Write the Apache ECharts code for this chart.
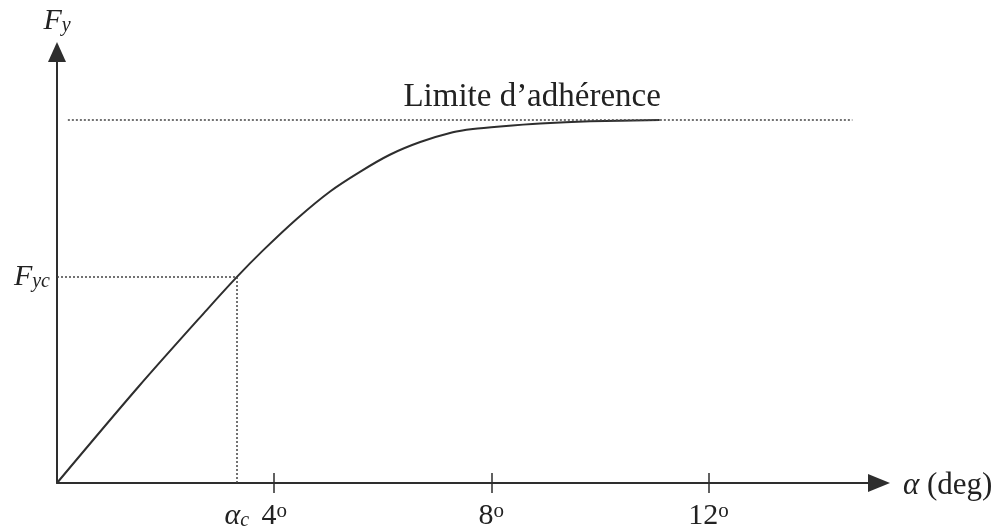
<!DOCTYPE html>
<html>
<head>
<meta charset="utf-8">
<script src="https://cdn.jsdelivr.net/npm/echarts@6/dist/echarts.min.js"></script>
<style>
  html, body { margin: 0; padding: 0; background: #fff; }
</style>
</head>
<body>
<div id="chart" style="width: 1008px; height: 532px"></div>
<script>
// curve: alpha in degrees, Fy relative to the adhesion limit
const alphaDeg = [0, 1.5, 2.76, 3.31, 3.79, 4.42, 5.03, 5.58, 6.13, 6.69, 7.29, 7.66, 8.16, 8.9, 9.82, 11.1];
const fyValues = [0, 0.265, 0.477, 0.567, 0.64, 0.728, 0.803, 0.857, 0.904, 0.939, 0.966, 0.975, 0.982, 0.99, 0.996, 1.0];

const alphaC = 3.31;
const fyc = 0.567;
const limitF = 1.0;
const limitSpan = [0.2, 14.65];
const xTicks = [4, 8, 12];

const serif = "Liberation Serif";
const ink = "#2e2e2e";

const chart = echarts.init(document.getElementById("chart"));

const option = {
  animation: false,
  grid: { left: 57, right: 129, top: 52, bottom: 49 },
  xAxis: [
    {
      type: "value",
      min: 0,
      max: 15.14,
      interval: 4,
      splitLine: { show: false },
      axisLine: {
        lineStyle: { color: ink, width: 2 },
        symbol: ["none", "triangle"],
        symbolSize: [18, 22],
      },
      axisTick: { show: true, length: 10, customValues: xTicks, lineStyle: { color: ink, width: 1.5 } },
      axisLabel: {
        margin: 18,
        customValues: [alphaC].concat(xTicks),
        formatter: function (value) {
          if (value === alphaC) return "{a|α}{c|c}";
          return "{n|" + value + "}{o|o}";
        },
        rich: {
          n: { fontFamily: serif, fontSize: 30, color: "#222", verticalAlign: "bottom", lineHeight: 30 },
          o: { fontFamily: serif, fontSize: 21, color: "#222", verticalAlign: "top", lineHeight: 30 },
          a: { fontFamily: serif, fontStyle: "italic", fontSize: 30, color: "#222", verticalAlign: "bottom", lineHeight: 30 },
          c: { fontFamily: serif, fontStyle: "italic", fontSize: 20, color: "#222", verticalAlign: "bottom", lineHeight: 24 },
        },
      },
      name: "{a|α}{t| (deg)}",
      nameLocation: "end",
      nameGap: 24,
      nameTextStyle: {
        padding: [6, 0, 0, 0],
        rich: {
          a: { fontFamily: serif, fontStyle: "italic", fontSize: 31, color: "#222" },
          t: { fontFamily: serif, fontSize: 31, color: "#222" },
        },
      },
    },
    {
      // second axis only to get the tick half above the line
      type: "value",
      min: 0,
      max: 15.14,
      interval: 4,
      position: "bottom",
      splitLine: { show: false },
      axisLine: { show: false },
      axisTick: { show: true, inside: true, length: 10, customValues: xTicks, lineStyle: { color: ink, width: 1.5 } },
      axisLabel: { show: false },
    },
  ],
  yAxis: {
    type: "value",
    min: 0,
    max: 1.187,
    splitLine: { show: false },
    axisTick: { show: false },
    axisLine: {
      lineStyle: { color: ink, width: 2 },
      symbol: ["none", "triangle"],
      symbolSize: [18, 20],
    },
    axisLabel: {
      margin: 7,
      customValues: [fyc],
      formatter: function () {
        return "{f|F}{s|yc}";
      },
      rich: {
        f: { fontFamily: serif, fontStyle: "italic", fontSize: 30, color: "#222", verticalAlign: "bottom", lineHeight: 30 },
        s: { fontFamily: serif, fontStyle: "italic", fontSize: 20, color: "#222", verticalAlign: "bottom", lineHeight: 22 },
      },
    },
    name: "{f|F}{s|y}",
    nameLocation: "end",
    nameGap: 16,
    nameTextStyle: {
      rich: {
        f: { fontFamily: serif, fontStyle: "italic", fontSize: 30, color: "#222", verticalAlign: "bottom", lineHeight: 30 },
        s: { fontFamily: serif, fontStyle: "italic", fontSize: 20, color: "#222", verticalAlign: "bottom", lineHeight: 22 },
      },
    },
  },
  series: [
    {
      type: "line",
      xAxisIndex: 0,
      data: alphaDeg.map((a, i) => [a, fyValues[i]]),
      smooth: 0.3,
      showSymbol: false,
      lineStyle: { color: ink, width: 2 },
      markLine: {
        silent: true,
        symbol: ["none", "none"],
        lineStyle: { color: "#444", type: [2, 2], width: 1.5 },
        label: { show: false },
        data: [
          [{ coord: [alphaC, 0] }, { coord: [alphaC, fyc] }],
          [{ coord: [0, fyc] }, { coord: [alphaC, fyc] }],
          [
            {
              coord: [limitSpan[0], limitF],
              label: {
                show: true,
                position: "middle",
                formatter: "Limite d’adhérence",
                fontFamily: serif,
                fontSize: 33,
                color: "#222",
                distance: 6,
                offset: [72, 0],
              },
            },
            { coord: [limitSpan[1], limitF] },
          ],
        ],
      },
    },
  ],
};

chart.setOption(option);
</script>
</body>
</html>
